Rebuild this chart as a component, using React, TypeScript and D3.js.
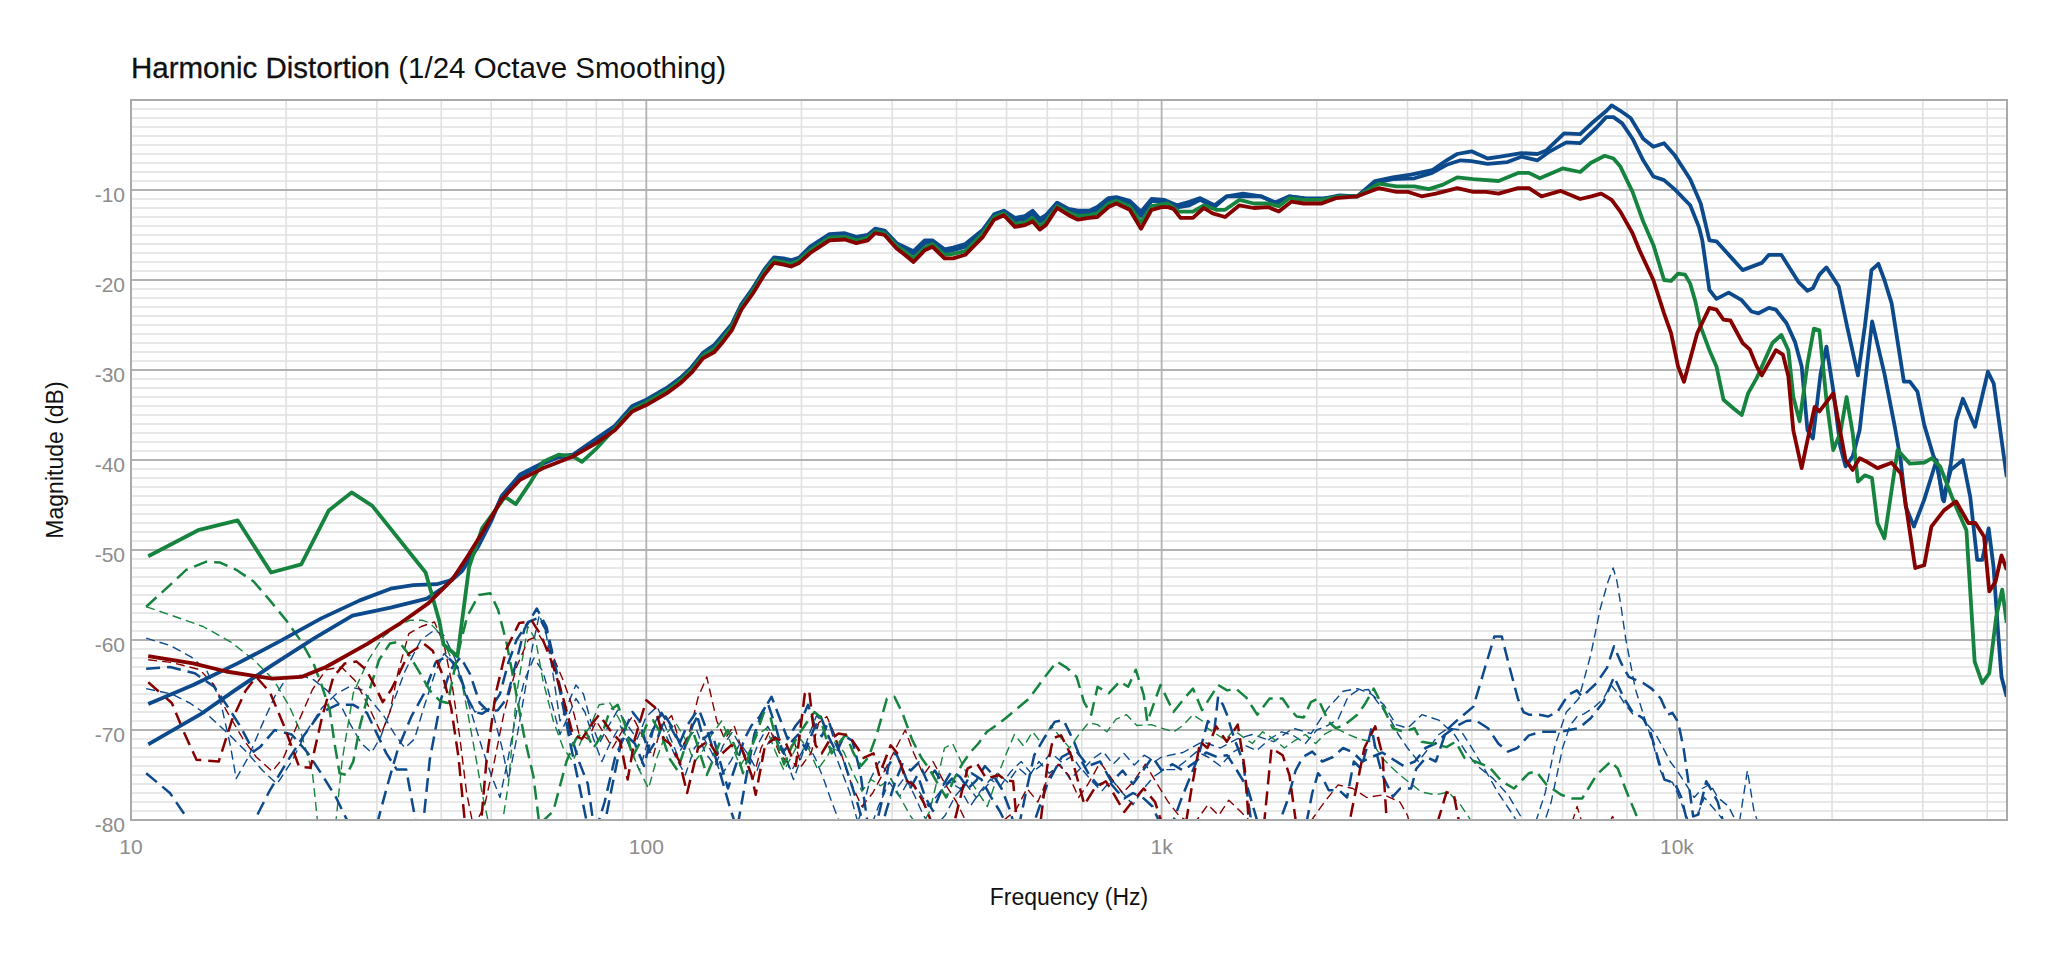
import React from 'react';
import * as d3 from 'd3';

type Pt = [number, number];

// x axis (Hz) and y axis (dB) ticks
const xMajorTicks = [10, 100, 1000, 10000];
const xTickLabels = ['10', '100', '1k', '10k'];
const yMajorTicks = [-80, -70, -60, -50, -40, -30, -20, -10];
const yTickLabels = ['-80', '-70', '-60', '-50', '-40', '-30', '-20', '-10'];

// fundamentals [Hz, dB]
const fundBlue1: Pt[] = [[10.8,-67.1],[13.2,-65.0],[16.1,-62.6],[19.5,-60.1],[23.4,-57.6],[27.8,-55.6],[31.9,-54.3],[35.3,-53.9],[39.2,-53.8],[42,-53.3],[43.8,-52.4],[47.2,-49.6],[50,-46.8],[52.4,-44.0],[56.9,-41.6],[63.1,-40.3],[67.6,-39.6],[72.1,-39.4],[80.1,-37.6],[86.9,-36.2],[93.9,-34.0],[100,-33.3],[109.5,-32.0],[116.3,-30.9],[122.4,-29.7],[128.8,-28.1],[135.6,-27.2],[140.3,-26.2],[146.5,-24.9],[152.9,-22.7],[161,-20.9],[169.6,-18.8],[176.9,-17.5],[184.6,-17.6],[191,-17.8],[198,-17.5],[208,-16.3],[226.7,-14.9],[242.7,-14.8],[255.6,-15.2],[269,-15.0],[278,-14.3],[290,-14.5],[306,-15.9],[319,-16.4],[330,-16.8],[347,-15.6],[359,-15.6],[379,-16.6],[394,-16.4],[416,-16.0],[450,-14.4],[473,-12.7],[494,-12.3],[519,-13.1],[543,-12.9],[562,-12.3],[580,-13.2],[596,-12.8],[627,-11.4],[660,-12.1],[688,-12.3],[724,-12.3],[750,-11.9],[789,-10.9],[817,-10.8],[867,-11.2],[912,-12.4],[956,-11.0],[1013,-11.1],[1071,-11.7],[1132,-11.3],[1188,-10.9],[1266,-11.7],[1338,-10.7],[1439,-10.4],[1558,-10.7],[1661,-11.4],[1770,-10.7],[1886,-10.9],[2044,-11.0],[2214,-10.6],[2398,-10.7],[2596,-9.0],[2810,-8.6],[3046,-8.3],[3349,-7.8],[3573,-6.7],[3746,-6.0],[3993,-5.7],[4291,-6.5],[4542,-6.3],[4990,-5.9],[5363,-6.0],[5580,-5.6],[6040,-3.7],[6490,-3.8],[6860,-2.5],[7300,-1.2],[7470,-0.6],[7766,-1.2],[8130,-2.0],[8600,-4.3],[9000,-5.2],[9440,-4.8],[9890,-6.1],[10610,-8.8],[11120,-11.5],[11560,-15.6],[11930,-15.7],[12700,-17.4],[13410,-18.9],[14610,-18.1],[15080,-17.2],[15940,-17.2],[17200,-20.2],[17920,-21.2],[18360,-20.9],[18900,-19.4],[19500,-18.6],[20600,-20.7],[21400,-25.2],[22450,-30.6],[23150,-25.2],[23850,-18.9],[24600,-18.2],[25270,-20.0],[26100,-22.6],[26900,-27.4],[27570,-31.3],[28310,-31.3],[29290,-32.4],[30190,-36.1],[31400,-39.4],[31900,-40.4],[32970,-44.6],[34000,-40.4],[34820,-35.6],[35880,-33.2],[37880,-36.3],[40130,-30.2],[41180,-31.5],[43650,-41.9]];

const fundBlue2: Pt[] = [[10.8,-71.6],[13.6,-68.3],[15.9,-65.6],[18.8,-62.8],[22.7,-59.8],[26.9,-57.3],[31.9,-56.4],[37.5,-55.4],[40.6,-54.1],[43.3,-52.4],[46.5,-49.8],[50,-46.6],[52.4,-44.1],[56.9,-41.8],[63.1,-40.4],[67.6,-39.7],[72.1,-39.5],[80.1,-37.7],[86.9,-36.3],[93.9,-34.1],[100,-33.4],[109.5,-32.1],[116.3,-31.0],[122.4,-29.8],[128.8,-28.2],[135.6,-27.3],[140.3,-26.3],[146.5,-25.0],[152.9,-22.8],[161,-21.0],[169.6,-18.9],[176.9,-17.6],[184.6,-17.8],[191,-18.0],[198,-17.6],[208,-16.5],[226.7,-15.1],[242.7,-15.0],[255.6,-15.4],[269,-15.2],[278,-14.4],[290,-14.7],[306,-16.1],[319,-16.6],[330,-17.1],[347,-15.9],[359,-15.8],[379,-16.9],[394,-16.7],[416,-16.3],[450,-14.6],[473,-12.9],[494,-12.5],[519,-13.4],[543,-13.2],[562,-12.6],[580,-13.5],[596,-13.1],[627,-11.6],[660,-12.3],[688,-12.6],[724,-12.5],[750,-12.2],[789,-11.2],[817,-11.0],[867,-11.5],[912,-12.9],[956,-11.2],[1013,-11.3],[1080,-11.9],[1132,-11.7],[1188,-11.1],[1266,-11.9],[1338,-10.7],[1416,-10.7],[1558,-10.7],[1674,-11.5],[1770,-10.7],[1916,-11.0],[2076,-10.9],[2249,-10.7],[2398,-10.7],[2596,-9.2],[2810,-8.8],[3095,-8.7],[3349,-8.1],[3573,-7.2],[3805,-6.7],[3993,-6.8],[4291,-7.1],[4687,-6.9],[4990,-6.3],[5363,-6.7],[5670,-5.7],[6100,-4.7],[6487,-4.8],[7000,-3.0],[7290,-1.9],[7530,-1.9],[7830,-2.6],[8200,-4.3],[8600,-6.7],[9000,-8.5],[9440,-8.9],[9890,-9.9],[10610,-11.7],[11030,-14.1],[11200,-15.6],[11560,-21.1],[11930,-22.1],[12600,-21.4],[13330,-22.2],[13950,-23.5],[14400,-23.7],[15080,-23.1],[15560,-23.3],[16320,-24.8],[16950,-26.9],[17460,-29.6],[17920,-36.7],[18360,-37.6],[19000,-30.4],[19500,-27.4],[20100,-32.2],[20750,-38.5],[21240,-40.7],[21930,-39.6],[22620,-36.7],[23920,-24.6],[25270,-30.4],[26470,-36.3],[27170,-40.0],[27800,-45.2],[28830,-47.4],[30190,-44.4],[31900,-40.0],[32800,-44.4],[34000,-41.1],[35880,-40.0],[37080,-44.1],[38250,-51.1],[39130,-51.1],[40260,-47.6],[41150,-51.9],[42010,-59.3],[42640,-64.1],[43650,-66.3]];

const fundGreen: Pt[] = [[10.8,-50.7],[13.5,-47.8],[16.1,-46.7],[18.7,-52.5],[21.4,-51.6],[24.2,-45.6],[26.8,-43.6],[29.4,-45.1],[37.3,-52.5],[39.7,-58.0],[40.4,-60.5],[43.0,-61.8],[45.3,-51.9],[48,-47.6],[53.2,-44.1],[55.8,-44.9],[59.4,-42.6],[63.1,-40.2],[67.6,-39.4],[72.1,-39.6],[75,-40.2],[80.1,-38.7],[86.9,-36.5],[93.9,-34.4],[100,-33.6],[109.5,-32.3],[116.3,-31.2],[122.4,-30.0],[128.8,-28.4],[135.6,-27.6],[140.3,-26.6],[146.5,-25.2],[152.9,-23.0],[161,-21.2],[169.6,-19.1],[176.9,-17.8],[184.6,-18.0],[191,-18.2],[198,-17.8],[208,-16.7],[226.7,-15.3],[242.7,-15.2],[255.6,-15.6],[269,-15.3],[278,-14.6],[290,-14.8],[306,-16.2],[319,-16.9],[330,-17.6],[347,-16.4],[359,-16.0],[379,-17.2],[394,-17.1],[416,-16.8],[450,-14.8],[473,-13.0],[494,-12.6],[519,-13.8],[543,-13.6],[562,-13.1],[580,-14.0],[596,-13.5],[627,-11.8],[660,-12.5],[688,-12.9],[724,-12.8],[750,-12.6],[789,-11.5],[817,-11.2],[867,-11.8],[912,-13.6],[956,-11.8],[1000,-11.6],[1029,-11.5],[1080,-12.4],[1150,-12.4],[1207,-11.7],[1276,-12.2],[1328,-12.2],[1416,-11.1],[1509,-11.5],[1609,-11.5],[1688,-11.8],[1770,-10.9],[1886,-11.1],[2044,-11.1],[2214,-10.7],[2398,-10.7],[2637,-9.3],[2858,-9.6],[3095,-9.6],[3300,-9.9],[3516,-9.4],[3746,-8.6],[4026,-8.8],[4506,-9.0],[4917,-8.1],[5160,-8.1],[5420,-8.7],[6000,-7.6],[6490,-8.0],[6800,-7.0],[7240,-6.2],[7530,-6.5],[7766,-7.4],[8200,-10.2],[8600,-13.5],[9000,-16.1],[9440,-20.0],[9740,-20.1],[10050,-19.3],[10370,-19.4],[10610,-20.4],[10860,-22.4],[11120,-25.2],[11560,-27.8],[11930,-29.6],[12310,-33.3],[12900,-34.3],[13360,-35.0],[13740,-32.6],[14280,-30.9],[15320,-27.0],[15940,-26.1],[16450,-27.8],[16820,-33.0],[17300,-35.7],[17920,-29.3],[18440,-25.4],[18900,-25.6],[19500,-33.3],[20100,-38.9],[20750,-37.0],[21340,-33.0],[21930,-37.0],[22450,-42.4],[23150,-41.7],[23900,-42.0],[24500,-47.0],[25270,-48.7],[26800,-38.9],[28310,-40.4],[30190,-40.3],[31250,-39.8],[32400,-40.7],[34550,-44.8],[36450,-47.8],[37820,-62.4],[39130,-64.8],[40370,-63.7],[41650,-57.4],[42770,-54.4],[43650,-58.1]];

const fundRed: Pt[] = [[10.8,-61.8],[13.2,-62.6],[15.3,-63.5],[18.8,-64.3],[21.4,-64.1],[23.9,-63.0],[28.8,-60.4],[33,-58.3],[37.8,-55.9],[42,-53.3],[45,-50.7],[48,-48.1],[52.4,-44.4],[56.9,-42.2],[63.1,-40.9],[72.1,-39.6],[80.1,-38.1],[86.9,-36.7],[93.9,-34.6],[100,-33.9],[109.5,-32.6],[116.3,-31.5],[122.4,-30.3],[128.8,-28.7],[135.6,-28.0],[140.3,-27.0],[146.5,-25.6],[152.9,-23.3],[161,-21.5],[169.6,-19.4],[176.9,-18.1],[184.6,-18.3],[191,-18.5],[198,-18.1],[208,-17.0],[226.7,-15.6],[242.7,-15.5],[255.6,-15.9],[269,-15.6],[278,-14.8],[290,-15.0],[306,-16.5],[319,-17.3],[330,-18.0],[347,-16.7],[359,-16.3],[379,-17.6],[394,-17.6],[416,-17.2],[450,-15.2],[473,-13.3],[494,-12.8],[519,-14.1],[543,-13.9],[562,-13.5],[580,-14.4],[596,-13.9],[627,-12.0],[660,-12.8],[688,-13.3],[724,-13.1],[750,-13.0],[789,-11.9],[817,-11.5],[867,-12.2],[912,-14.3],[956,-12.2],[1000,-11.9],[1029,-11.9],[1054,-12.1],[1088,-13.1],[1150,-13.1],[1207,-12.0],[1256,-12.6],[1328,-13.0],[1416,-11.7],[1509,-12.0],[1609,-11.9],[1688,-12.4],[1785,-11.3],[1886,-11.5],[2044,-11.5],[2178,-10.9],[2398,-10.7],[2637,-9.8],[2858,-10.2],[3000,-10.2],[3195,-10.7],[3406,-10.4],[3746,-9.8],[4026,-10.2],[4262,-10.2],[4506,-10.4],[4917,-9.8],[5160,-9.8],[5460,-10.7],[5950,-10.1],[6490,-11.0],[6820,-10.7],[7130,-10.4],[7470,-11.1],[7766,-12.4],[8200,-14.8],[8460,-16.7],[9000,-20.0],[9440,-23.7],[9740,-25.9],[10050,-29.6],[10320,-31.3],[10950,-25.9],[11560,-23.1],[11930,-23.3],[12310,-24.4],[12700,-24.5],[13410,-27.0],[13840,-27.7],[14280,-29.6],[14610,-30.6],[15560,-27.8],[16060,-28.3],[16450,-30.7],[16820,-36.7],[17460,-40.9],[17920,-37.8],[18500,-34.1],[18900,-34.6],[20100,-32.6],[21240,-40.0],[21930,-41.1],[22620,-39.8],[23370,-40.2],[24500,-40.9],[26100,-40.3],[27200,-41.5],[27710,-44.4],[29000,-52.0],[30190,-51.7],[31170,-47.4],[32970,-45.6],[34820,-44.6],[36770,-47.0],[37940,-47.0],[39440,-48.5],[40370,-54.6],[41520,-53.5],[42640,-50.6],[43650,-52.2]];

// harmonics, thick long dash
const h2Blue1: Pt[] = [[10.7,-74.8],[11.9,-77],[13.1,-80.5],[15,-84],[17.2,-80.5],[18.6,-76.7],[20,-73.7],[21.6,-70.7],[23.3,-68.1],[25.1,-67.2],[27,-67.2],[28.7,-68.1],[30,-70.4],[31.3,-72.6],[32.8,-74.4],[34.2,-74.4],[35.7,-80.2],[36.5,-83],[38,-73.3],[40,-66.5],[41.7,-63.3],[43.6,-61.9],[45.5,-63.8],[47.5,-67],[49.5,-68],[51.5,-67.8],[53.6,-66.5],[55.6,-63],[58,-58.8],[61.3,-56.5],[64,-58.5],[66,-61.9],[68.5,-66],[71,-70],[74,-73.5],[77,-76],[79,-80.5],[82,-82],[86,-76],[90,-70.5],[94,-68],[97,-69],[101,-72.5],[105,-71],[109,-68.5],[113,-70],[118,-72.4],[123,-69.5],[127,-68],[132,-70.5],[137,-73.5],[141,-76],[146,-79],[150,-81],[156,-75.5],[162,-70.5],[168,-68],[175,-66.3],[181,-68.5],[188,-71],[195,-69.5],[201,-68.6],[206,-67.2],[212,-69.5],[219,-70.7],[226,-69],[233,-71.5],[241,-73.2],[250,-76],[258,-78.5],[265,-81],[275,-82],[285,-78.5],[295,-74],[305,-72.5],[315,-74.5],[325,-76.5],[336,-75],[348,-77.5],[360,-79],[375,-76.5],[392,-75.4],[410,-76.6],[428,-74.8],[447,-75.5],[466,-77.4],[485,-79],[505,-81],[525,-81.5],[545,-77],[566,-72.8],[590,-71],[620,-69.1],[645,-68.9],[676,-71.3],[700,-73.5],[724,-75],[751,-76.1],[790,-75.7],[820,-76.8],[846,-77.6],[880,-77],[923,-77.6],[960,-78.5],[995,-80.5],[1040,-81],[1093,-77.6],[1140,-75],[1176,-73.1],[1230,-69],[1266,-70],[1287,-66.3],[1315,-67.2],[1339,-68.3],[1382,-70.9],[1439,-73.5],[1473,-78],[1500,-81],[1900,-81],[1960,-77],[2012,-74.8],[2060,-75.5],[2110,-76.7],[2212,-76.7],[2290,-77.5],[2360,-73.5],[2438,-74.3],[2500,-72],[2555,-69.8],[2610,-72.5],[2680,-75],[2810,-77.4],[2903,-76.5],[3049,-76.5],[3120,-74.3],[3266,-73],[3405,-73.5],[3572,-70],[3748,-68.9],[4026,-67.4],[4220,-63.5],[4423,-59.6],[4571,-59.6],[4722,-62.8],[4912,-66.5],[5035,-68],[5163,-68.3],[5410,-68.3],[5627,-68.5],[5860,-68],[6150,-66.1],[6394,-65.6],[6544,-66.3],[6980,-64.8],[7315,-63.1],[7547,-60.7],[7800,-62.6],[8060,-64.1],[8610,-64.8],[8930,-65.4],[9300,-66.5],[9600,-68.3],[9800,-68.1],[10050,-69.1],[10300,-72],[10570,-76.5],[10750,-79.6],[11000,-79.4],[11400,-75.7],[11700,-76.8],[12000,-78],[12400,-81]];

const h2Blue2: Pt[] = [[10.7,-63.2],[11.9,-63],[13.3,-63.7],[14.5,-65.2],[15.4,-67.4],[16.3,-69.6],[17.3,-72.4],[17.8,-71.9],[19,-70],[20.5,-70.5],[22,-72.5],[23.5,-75],[25,-77.5],[26.5,-80.5],[28,-83],[30,-80.5],[31.5,-76],[33,-72],[35,-68.5],[37,-66],[39,-62.5],[41,-61.8],[43,-63],[45,-66.5],[46.5,-68],[48,-68.2],[50,-67.5],[52,-66],[54,-62.5],[56,-60],[59,-58],[62,-57.5],[64,-59],[66.5,-63],[69,-67.5],[71.5,-72],[74,-76],[76.5,-80],[79,-82],[83,-78],[87,-73],[91,-70.5],[95,-71.5],[99,-74],[103,-70],[107,-68.1],[111,-69.5],[116,-71.5],[120,-69.5],[125,-68],[129,-71],[134,-70.2],[139,-73.5],[144,-76.5],[149,-74],[155,-71],[160,-69.5],[166,-68.5],[172,-67],[178,-69.5],[184,-72.5],[190,-71.5],[197,-70.5],[204,-72.2],[211,-70],[218,-68.5],[226,-70.8],[234,-72.5],[242,-70.6],[251,-71.2],[260,-74.6],[269,-80.5],[280,-83],[292,-79],[303,-76],[314,-73.8],[326,-74.5],[338,-73.6],[350,-75.6],[363,-74.5],[377,-76.1],[391,-74.6],[406,-75.2],[421,-76.5],[437,-75.6],[454,-74],[471,-75],[489,-76.5],[507,-78.8],[520,-81],[560,-81],[600,-76],[640,-73],[680,-72.2],[720,-74],[760,-73.5],[800,-75.8],[840,-74.5],[880,-76],[920,-74.5],[960,-73],[1000,-74.5],[1050,-73.8],[1100,-74.5],[1160,-73.6],[1220,-72.5],[1280,-73],[1340,-72.8],[1400,-74.5],[1470,-76.5],[1540,-80.5],[1650,-82],[1750,-78],[1820,-74.5],[1880,-73],[1960,-72.4],[2050,-73.5],[2150,-73],[2250,-72],[2350,-72.5],[2450,-73.5],[2560,-73],[2680,-72.5],[2800,-73.2],[2950,-74],[3100,-73.5],[3250,-72],[3400,-71.5],[3550,-70.5],[3750,-69.5],[3900,-69],[4060,-68.9],[4300,-69.8],[4500,-71.5],[4700,-72.4],[4900,-72],[5160,-70.6],[5450,-70.2],[5950,-70.2],[6450,-69.8],[6800,-68.7],[7200,-66.9],[7550,-64.1],[7900,-66.5],[8200,-68],[8600,-68.7],[8900,-70.4],[9200,-73.3],[9450,-75.5],[9900,-75.9],[10200,-77.5],[10500,-80.5],[10900,-82]];

const h2Green: Pt[] = [[10.7,-56.3],[11.9,-53.9],[12.8,-52.2],[14,-51.3],[14.9,-51.4],[16,-52.2],[17.3,-53.5],[18.6,-55.6],[20,-57.8],[21.3,-60],[22.6,-62.6],[23.5,-65.2],[24.3,-67.8],[24.9,-71.9],[25.4,-74.8],[26.2,-75],[27,-73.5],[27.8,-69.6],[28.9,-65.9],[30.3,-62.2],[31.8,-60.4],[33.1,-60.2],[34.5,-61.5],[36.4,-63.7],[38,-65.6],[39.8,-66.8],[41.2,-67],[42.8,-62.2],[44.9,-57.4],[47.3,-55],[49.8,-54.8],[51.6,-56.7],[53.6,-60.4],[55.6,-65.2],[57.8,-70.4],[60.4,-75.2],[62,-80.5],[66,-79],[70,-73.5],[73,-71],[76,-70],[79,-72],[82,-70.5],[85,-67.8],[88,-67.2],[91,-69.5],[94,-73],[97,-71.5],[100,-69.5],[103,-68.9],[107,-70.5],[111,-73.2],[115,-74.5],[119,-71.8],[123,-70],[127,-72.5],[131,-75],[135,-73.2],[139,-71.3],[144,-70],[149,-72],[154,-74.8],[159,-72.4],[164,-70.2],[169,-68.1],[174,-68.5],[179,-71.2],[185,-73.8],[191,-72],[197,-70.6],[203,-69.5],[208,-68.6],[212,-68],[217,-68.5],[223,-70.8],[229,-72.6],[236,-71.5],[244,-70.5],[252,-72.5],[261,-74],[270,-73],[280,-70.5],[293,-66.5],[303,-66.3],[314,-68.1],[328,-71.1],[342,-73.1],[354,-74.3],[368,-76],[382,-77.5],[395,-75.5],[410,-73.8],[425,-72.5],[441,-71.5],[458,-70.2],[477,-69.5],[498,-68.7],[553,-66.5],[590,-64.3],[626,-62.4],[655,-63.1],[684,-64.1],[707,-66.9],[730,-68.3],[751,-65.2],[790,-65.9],[830,-64.6],[861,-65.2],[891,-63.3],[923,-66.1],[938,-69.1],[995,-65],[1054,-68],[1106,-66.5],[1150,-65.4],[1198,-67.8],[1287,-65],[1340,-65.6],[1394,-65.4],[1460,-66.4],[1533,-68.3],[1620,-66.5],[1716,-66.5],[1770,-67.6],[1828,-68.5],[1887,-68.6],[1948,-66.9],[2011,-66.5],[2110,-69.1],[2178,-69.8],[2268,-69.4],[2397,-68.3],[2475,-67.2],[2580,-65.4],[2660,-66.9],[2810,-69.8],[2950,-70.2],[3095,-69.8],[3195,-71.3],[3352,-71.5],[3572,-71.9],[3720,-71.3],[3870,-73.1],[4060,-73.5],[4320,-74.1],[4570,-75.7],[4830,-76.5],[5160,-74.8],[5330,-74.6],[5590,-76.1],[5960,-77.2],[6250,-77.6],[6550,-77.6],[6980,-75],[7440,-73.5],[7680,-74.3],[7940,-76.5],[8330,-79.4],[8700,-82]];

const h2Red: Pt[] = [[10.8,-64.7],[12,-67],[12.7,-70.4],[13.4,-73.3],[14.8,-73.5],[15.7,-68.9],[16.7,-65.6],[17.5,-64.1],[18.6,-65.8],[19.8,-69.5],[21.2,-74.1],[22.3,-74.2],[23.5,-68.5],[24.7,-64.1],[26,-62.6],[27.4,-62.4],[28.6,-63.3],[29.8,-65.2],[30.8,-66.9],[32,-65.5],[34.6,-61.5],[37,-60.4],[38.5,-61.2],[40.2,-63.8],[41.8,-67.5],[43.2,-73],[44.5,-80.5],[47.5,-82],[49,-73.2],[51,-66],[53.5,-61],[56.7,-58.1],[60,-57.9],[62.5,-59.5],[65.6,-62.5],[69,-66.5],[72,-70.5],[75,-71],[78,-69.5],[81,-68.3],[85,-70],[89,-71.3],[92,-75.5],[95,-71],[100,-66.7],[104,-67.5],[108,-71],[111,-71.5],[116,-73.5],[120,-77],[126,-72],[132,-71.2],[138,-73],[146,-71.7],[153,-72],[160,-75],[163,-77.2],[170,-71.7],[178,-70.9],[186,-71.3],[195,-74],[203,-66],[207,-65.6],[213,-71.7],[219,-72.6],[227,-71.1],[236,-70.4],[247,-70.6],[257,-72],[264,-73.1],[276,-72.6],[283,-75],[298,-71.7],[307,-72.6],[319,-75.6],[330,-76.1],[345,-78],[362,-81],[395,-80.5],[420,-74.3],[438,-73.7],[457,-75.4],[483,-75],[498,-75.6],[515,-75.7],[525,-81],[580,-81],[600,-74],[616,-70.9],[638,-70.6],[667,-72.8],[708,-78.3],[741,-76.5],[779,-75.7],[796,-76.5],[846,-79.1],[876,-78],[923,-76.5],[971,-78],[1010,-81],[1110,-81],[1143,-76.5],[1188,-71.3],[1227,-72],[1276,-69.6],[1338,-71.3],[1405,-69.4],[1450,-74.3],[1480,-81],[1580,-80.5],[1634,-72],[1717,-72.8],[1770,-75],[1830,-81],[2300,-81],[2474,-72],[2597,-69.6],[2683,-72.8],[2740,-81],[3400,-81],[3572,-76.9],[3690,-77.2],[3800,-81]];

// harmonics, thin short dash
const h3Blue1: Pt[] = [[10.7,-59.8],[11.9,-60.6],[13.1,-61.9],[14,-63.3],[14.9,-66.7],[15.6,-71.8],[16,-75.4],[16.9,-73],[17.9,-69.6],[19,-66.3],[20,-64.3],[21.3,-63.9],[22.6,-64.4],[24,-65.6],[25.6,-67.4],[26.6,-69.3],[28,-71.5],[29.3,-72.5],[30.5,-70.8],[32,-67.5],[34,-63.5],[36.5,-60],[38.8,-58.9],[40.5,-59.5],[42.5,-62],[44.5,-66],[46.5,-68],[48.5,-67.6],[50.5,-68.3],[52.5,-72],[54,-75.5],[56,-71],[58,-66],[60,-61],[62,-57.2],[64,-59.5],[66,-64],[68,-69],[70,-67.5],[73,-65],[75.5,-66],[78,-69],[81,-71.5],[84,-69.8],[88,-67.8],[92,-69.5],[96,-71],[100,-68.5],[105,-67.4],[110,-70.2],[115,-72.8],[120,-71],[125,-69.9],[130,-72.5],[136,-74],[141,-71.7],[147,-70.2],[153,-72],[159,-73.8],[165,-71.5],[172,-69.6],[179,-71.2],[186,-73],[193,-75.5],[200,-73],[207,-70.5],[214,-68.4],[222,-69.5],[230,-72],[239,-74.5],[248,-76.9],[258,-80.5],[268,-82],[282,-78.5],[296,-75.8],[310,-77.4],[324,-75.5],[338,-76.8],[353,-78.5],[370,-77],[388,-75.8],[406,-76.5],[425,-78.5],[445,-76.8],[465,-75.5],[487,-76.2],[510,-74.6],[534,-73.5],[558,-74.8],[584,-73.9],[610,-72.5],[640,-73.6],[670,-72.9],[700,-74.5],[735,-73.2],[770,-72.4],[805,-73.8],[845,-72.6],[885,-73.9],[925,-72.8],[970,-73.5],[1000,-73],[1100,-72.5],[1200,-71.3],[1300,-72],[1400,-71],[1500,-70.5],[1650,-71.3],[1800,-69.8],[1950,-70.4],[2100,-67.6],[2250,-65.7],[2400,-65.4],[2550,-66],[2700,-67.2],[2850,-69.4],[3000,-69.8],[3200,-68.3],[3450,-68.9],[3700,-70.5],[3900,-72.5],[4100,-74],[4400,-75.4],[4700,-77.2],[5000,-79.8],[5300,-80.5],[5550,-77],[5800,-71.7],[6100,-68],[6450,-66.5],[6800,-61.7],[7100,-56.5],[7350,-53.5],[7520,-52],[7650,-53.5],[7800,-56.5],[7950,-59.8],[8300,-65.4],[8700,-69.1],[9000,-71.7],[9300,-74.6],[9500,-75.6],[9800,-75.8],[10050,-77.2],[10400,-79.4],[10700,-81],[11300,-77.5],[11900,-79],[12500,-80.5],[13200,-80.5],[13700,-74.5],[14100,-78.9],[14500,-81]];

const h3Blue2: Pt[] = [[10.7,-65.4],[12,-66],[13,-67],[14.2,-68.5],[15.5,-70.5],[16.8,-72.5],[18,-74.5],[19.2,-76],[20.5,-73.5],[22,-70],[23.5,-67.5],[25,-66],[26.5,-65.2],[28,-65.5],[29.5,-67],[31,-68.5],[32.5,-70.5],[34,-72],[35.5,-71],[37,-67.5],[39,-63.5],[40.5,-61.5],[42,-62.5],[44,-65],[46,-68.5],[48,-72],[50,-75],[52,-77.5],[54,-73],[56,-68],[58,-64.5],[60.5,-62],[63,-63.5],[65.5,-67],[68,-70.5],[70.5,-68.5],[73,-66.5],[76,-68],[79,-71],[82,-73.5],[85,-71.5],[89,-69.5],[93,-72],[97,-74.5],[101,-71],[105,-68.6],[109,-70.5],[114,-73],[119,-75],[124,-72],[129,-70.8],[134,-72.5],[140,-75],[146,-73.4],[152,-71.5],[158,-72.8],[164,-74.5],[170,-72],[177,-70.5],[184,-72],[191,-74.6],[198,-73],[205,-71.4],[213,-73.2],[221,-75.5],[229,-78],[238,-80.5],[250,-82],[262,-79],[272,-75.5],[283,-73.5],[294,-74.8],[306,-76.5],[318,-75.2],[331,-77.2],[345,-79.5],[360,-81],[380,-79.5],[398,-77.3],[417,-76],[437,-77.5],[458,-76.2],[480,-74.8],[503,-75.8],[527,-74.2],[552,-75.2],[578,-73.5],[605,-74.8],[635,-73.8],[665,-75.5],[697,-74.2],[730,-75.6],[765,-76.8],[800,-75.5],[840,-77],[880,-78.3],[920,-76.6],[965,-75.2],[1010,-74.4],[1060,-74.4],[1110,-73.5],[1170,-72.4],[1230,-73],[1300,-74],[1370,-72.5],[1450,-71.7],[1530,-72.3],[1620,-71],[1710,-70.2],[1800,-70.6],[1900,-71.5],[2000,-70],[2100,-69.5],[2200,-68.8],[2300,-66.3],[2400,-65.6],[2520,-65.5],[2640,-67.1],[2760,-68.5],[2880,-70.5],[3000,-72],[3150,-73.5],[3300,-72],[3450,-70.5],[3600,-69.8],[3800,-70],[4000,-72],[4250,-74.5],[4500,-77],[4750,-79],[5000,-81],[5400,-82],[5700,-78],[6000,-72],[6200,-69.5],[6400,-68.5],[6600,-68.2],[6900,-67.5],[7200,-66.5],[7450,-65],[7700,-66],[7900,-67],[8200,-68.2],[8500,-68.5],[8800,-69.5],[9100,-70.5],[9400,-72],[9700,-73.5],[10000,-74.5],[10400,-76],[10800,-77.5],[11200,-76.5],[11600,-76],[12000,-77.5],[12600,-78.5],[13100,-80.5],[13600,-81]];

const h3Green: Pt[] = [[10.7,-56.3],[11.9,-57.2],[13.8,-58.5],[15.6,-60.2],[17.3,-62.2],[18.9,-64.4],[20.3,-67.4],[21.4,-70.4],[22.5,-74.8],[23,-80],[24,-83],[25,-80],[25.7,-73.3],[27,-65.9],[28.9,-62.2],[30.9,-59.6],[32.7,-58.5],[34.8,-57.8],[36.7,-57.8],[38,-58.1],[39.8,-59.3],[41.7,-61.9],[43.6,-64.1],[45,-68],[46.5,-72.5],[48,-77],[49.5,-80.5],[52,-82],[54,-76],[56,-66],[58.9,-58.5],[61,-60],[63,-64.5],[66,-69],[69,-72],[72,-73.5],[75,-71],[78,-69.5],[81,-67.2],[85,-67],[89,-69],[93,-72],[97,-74.5],[101,-76.5],[105,-73],[109,-70.5],[114,-69.2],[119,-71],[124,-73.6],[129,-72.2],[134,-70.5],[140,-69],[146,-71.5],[152,-74],[158,-72.5],[164,-70.6],[171,-69.8],[178,-72.4],[185,-74.5],[192,-72.8],[199,-71],[207,-72.2],[215,-74.4],[224,-73],[233,-71.2],[242,-72.5],[252,-74.8],[262,-76.8],[273,-75.5],[285,-76.2],[298,-75.4],[311,-77.5],[325,-79.5],[340,-81],[355,-79],[367,-75.5],[379,-72],[393,-71.5],[408,-73.5],[424,-75.5],[441,-77],[459,-78.5],[478,-75.5],[498,-72.8],[518,-70.5],[540,-71.8],[562,-70.2],[585,-71.5],[610,-69.5],[636,-70.8],[663,-72],[691,-70.5],[721,-69.2],[751,-69.4],[783,-70.2],[816,-68.8],[855,-68.3],[895,-69.5],[955,-69.4],[1000,-69.8],[1055,-70.2],[1100,-69.5],[1150,-68.3],[1200,-69],[1227,-69.8],[1280,-70.5],[1330,-71.1],[1380,-70],[1440,-70.8],[1500,-71.5],[1570,-70.2],[1650,-71],[1730,-72],[1810,-71.2],[1900,-70.5],[1990,-71.5],[2080,-70.4],[2178,-69.8],[2300,-70.5],[2420,-71],[2555,-71.3],[2680,-73.1],[2800,-74.2],[2900,-75],[3050,-76],[3195,-76.9],[3400,-77.2],[3600,-76.9],[3800,-78.3],[4000,-80.2],[4200,-82]];

const h3Red: Pt[] = [[10.8,-62.2],[12,-62.5],[13.6,-63.3],[14.5,-65],[15.3,-67.8],[16.5,-71],[17.5,-73],[18.8,-74.6],[19.8,-73],[21.2,-68.9],[22.5,-65.5],[23.9,-63.3],[25.6,-63],[27.2,-64.5],[28.7,-67],[30.6,-70.4],[31.8,-68],[33,-63.5],[34.6,-59.3],[36.6,-58.5],[38.8,-58],[40.5,-60.5],[42,-65],[43.5,-71],[44.8,-77],[46.2,-80.8],[48.5,-78.5],[50.5,-74],[53,-68],[56,-63],[59,-60],[62,-59.5],[66,-61.9],[69,-64.5],[71.5,-67],[74,-70.4],[77,-71],[80,-69],[83,-70.5],[86,-72],[90,-70],[94,-68.5],[98,-70.5],[103,-73],[107,-69.5],[112,-68.4],[117,-72],[121,-70.5],[126,-66.4],[131,-64.1],[137,-69],[142,-71],[148,-69.5],[155,-73],[161,-75.5],[167,-72],[174,-70],[181,-72.5],[187,-73.5],[193,-71],[200,-74],[209,-72.5],[216,-69.2],[224,-68.5],[232,-70.5],[240,-73],[250,-76],[262,-78.5],[275,-77],[290,-74.5],[305,-72],[318,-70],[330,-72.5],[345,-75],[360,-73.5],[380,-76],[400,-78],[420,-80.5],[470,-81],[520,-79],[548,-76.5],[575,-78],[600,-75.5],[630,-73.8],[660,-75],[690,-77.5],[720,-76],[760,-73.6],[800,-75.4],[840,-77],[880,-75.8],[930,-73.8],[980,-76],[1030,-78],[1080,-79.5],[1150,-80.6],[1230,-78.3],[1290,-79.5],[1350,-77.8],[1420,-79],[1500,-80.4],[1600,-81],[1900,-81],[2070,-78],[2200,-76.1],[2350,-76.5],[2500,-77.5],[2700,-77.2],[2900,-78],[3000,-79.5],[3050,-81],[6200,-81],[6400,-78.5],[6600,-81],[7300,-81],[7500,-79.6],[7700,-81]];

const BLUE = '#0c4a8c';
const GREEN = '#16843f';
const RED = '#870000';

const W = 2048;
const H = 961;
const margin = { top: 100, right: 41, bottom: 141, left: 131 };
const FONT = '"Liberation Sans", Arial, Helvetica, sans-serif';

type Series = { data: Pt[]; color: string; kind: 'fund' | 'h2' | 'h3' };

const series: Series[] = [
  { data: h3Blue2, color: BLUE, kind: 'h3' },
  { data: h3Blue1, color: BLUE, kind: 'h3' },
  { data: h3Green, color: GREEN, kind: 'h3' },
  { data: h3Red, color: RED, kind: 'h3' },
  { data: h2Blue2, color: BLUE, kind: 'h2' },
  { data: h2Blue1, color: BLUE, kind: 'h2' },
  { data: h2Green, color: GREEN, kind: 'h2' },
  { data: h2Red, color: RED, kind: 'h2' },
  { data: fundBlue2, color: BLUE, kind: 'fund' },
  { data: fundBlue1, color: BLUE, kind: 'fund' },
  { data: fundGreen, color: GREEN, kind: 'fund' },
  { data: fundRed, color: RED, kind: 'fund' },
];

const style = {
  fund: { width: 3.8, dash: undefined as string | undefined },
  h2: { width: 2.5, dash: '14,7' },
  h3: { width: 1.4, dash: '9,5' },
};

const App: React.FC = () => {
  const x = d3.scaleLog().domain([10, 43700]).range([margin.left, W - margin.right]);
  const y = d3.scaleLinear().domain([-80, 0]).range([H - margin.bottom, margin.top]);

  const line = d3
    .line<Pt>()
    .x((d) => x(d[0]))
    .y((d) => y(d[1]));

  const xMinor = x.ticks().filter((t) => !xMajorTicks.includes(t));
  const yMinor = d3.range(-79, 0, 1).filter((v) => v % 10 !== 0);

  const left = margin.left;
  const right = W - margin.right;
  const top = margin.top;
  const bottom = H - margin.bottom;

  return (
    <svg
      width={W}
      height={H}
      style={{ position: 'absolute', left: 0, top: 0, background: '#fff' }}
      fontFamily={FONT}
    >
      <defs>
        <clipPath id="plot-clip">
          <rect x={left} y={top} width={right - left} height={bottom - top} />
        </clipPath>
      </defs>

      {/* minor grid */}
      <g stroke="#e0e0e0" strokeWidth={1.6}>
        {yMinor.map((v) => (
          <line key={'ym' + v} x1={left} x2={right} y1={y(v)} y2={y(v)} />
        ))}
        {xMinor.map((v) => (
          <line key={'xm' + v} x1={x(v)} x2={x(v)} y1={top} y2={bottom} />
        ))}
      </g>

      {/* major grid */}
      <g stroke="#b2b2b2" strokeWidth={1.8}>
        {yMajorTicks.map((v) => (
          <line key={'yM' + v} x1={left} x2={right} y1={y(v)} y2={y(v)} />
        ))}
        {xMajorTicks.map((v) => (
          <line key={'xM' + v} x1={x(v)} x2={x(v)} y1={top} y2={bottom} />
        ))}
      </g>

      {/* curves */}
      <g clipPath="url(#plot-clip)" fill="none" strokeLinejoin="round">
        {series.map((s, i) => (
          <path
            key={i}
            d={line(s.data) || ''}
            stroke={s.color}
            strokeWidth={style[s.kind].width}
            strokeDasharray={style[s.kind].dash}
          />
        ))}
      </g>

      {/* border */}
      <rect
        x={left}
        y={top}
        width={right - left}
        height={bottom - top}
        fill="none"
        stroke="#aaaaaa"
        strokeWidth={2}
      />

      {/* y tick labels */}
      <g fill="#8c8c8c" fontSize={21} textAnchor="end">
        {yMajorTicks.map((v, i) => (
          <text key={'yl' + v} x={left - 6} y={y(v) + 12}>
            {yTickLabels[i]}
          </text>
        ))}
      </g>

      {/* x tick labels */}
      <g fill="#8c8c8c" fontSize={21} textAnchor="middle">
        {xMajorTicks.map((v, i) => (
          <text key={'xl' + v} x={x(v)} y={bottom + 34}>
            {xTickLabels[i]}
          </text>
        ))}
      </g>

      {/* axis titles */}
      <text x={(left + right) / 2} y={905} textAnchor="middle" fontSize={23} fill="#111">
        Frequency (Hz)
      </text>
      <text
        transform={`translate(63, ${(top + bottom) / 2}) rotate(-90)`}
        textAnchor="middle"
        fontSize={23}
        fill="#111"
      >
        Magnitude (dB)
      </text>

      {/* title */}
      <text x={left} y={78} fontSize={29.5} fill="#111">
        <tspan stroke="#111" strokeWidth={0.3}>Harmonic Distortion</tspan>
        <tspan> (1/24 Octave Smoothing)</tspan>
      </text>
    </svg>
  );
};

export default App;
